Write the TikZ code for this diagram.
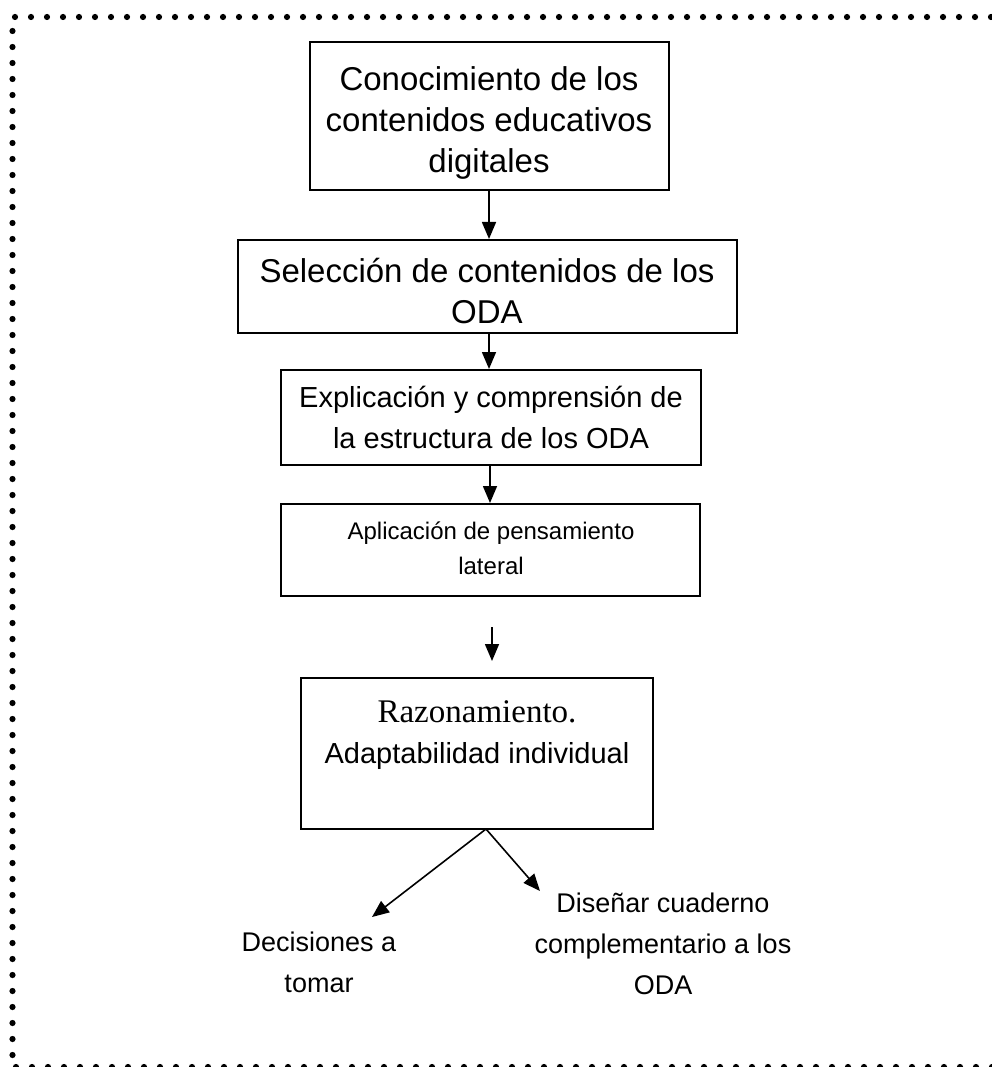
\documentclass[tikz,border=0pt]{standalone}
\usepackage{fontspec}
\setmainfont{Liberation Sans}
\newfontfamily\serifface{Liberation Serif}
\usetikzlibrary{arrows.meta}
\begin{document}
\begin{tikzpicture}[x=1pt,y=-1pt,
  stepbox/.style={draw,line width=2pt,inner sep=0pt},
  label/.style={align=center,inner sep=0pt,font=\fontsize{33}{41}\selectfont},
  midlabel/.style={align=center,inner sep=0pt,font=\fontsize{29}{41}\selectfont},
  outlabel/.style={align=center,inner sep=0pt,font=\fontsize{27}{41}\selectfont},
  small/.style={align=center,inner sep=0pt,font=\fontsize{24}{35}\selectfont},
  framedot/.style={fill=black},
  flow/.style={line width=1.6pt,-{Triangle[width=14pt,length=17pt]}}]
\useasboundingbox (0,0) rectangle (991,1067);
% dotted frame: top row, left column, bottom row
\foreach \k in {0,...,61} \fill[framedot] (15+16*\k,17) circle (3.1);
\foreach \k in {0,...,64} \fill[framedot] (12.5,31+16*\k) circle (3.1);
\foreach \k in {0,...,61} \fill[framedot] (16+16*\k,1067) circle (3.1);

% boxes
\node[stepbox,minimum width=359pt,minimum height=148pt] (b1) at (489.5,116) {};
\node[stepbox,minimum width=499pt,minimum height=93pt] (b2) at (487.5,286.5) {};
\node[stepbox,minimum width=420pt,minimum height=95pt] (b3) at (491,417.5) {};
\node[stepbox,minimum width=419pt,minimum height=92pt] (b4) at (490.5,550) {};
\node[stepbox,minimum width=352pt,minimum height=151pt] (b5) at (477,753.5) {};

% texts
\node[label] (t1) at (489,123) {Conocimiento de los\\contenidos educativos\\digitales};
\node[label] (t2) at (487,291.5) {Selección de contenidos de los\\ODA};
\node[midlabel] (t3) at (491,417) {Explicación y comprensión de\\la estructura de los ODA};
\node[small] (t4) at (491,548.5) {Aplicación de pensamiento\\lateral};
\node[midlabel] (t5) at (477,735) {{\fontsize{33}{41}\selectfont\serifface Razonamiento.}\\Adaptabilidad individual};
\node[outlabel] (t6) at (319,962.5) {Decisiones a\\tomar};
\node[outlabel] (t7) at (663,944) {Diseñar cuaderno\\complementario a los\\ODA};

% connectors
\draw[flow] (b1.south -| 489,0) -- (b2.north -| 489,0);
\draw[flow] (b2.south -| 489,0) -- (b3.north -| 489,0);
\draw[flow] (b3.south -| 490,0) -- (b4.north -| 490,0);
\coordinate (a4) at (492,627);
\coordinate (a5) at (492,661);
\draw[flow] (a4) -- (a5);
\coordinate (fork) at (486,829);
\coordinate (endl) at (372,917);
\coordinate (endr) at (540,891);
\draw[flow] (fork) -- (endl);
\draw[flow] (fork) -- (endr);
\end{tikzpicture}
\end{document}
